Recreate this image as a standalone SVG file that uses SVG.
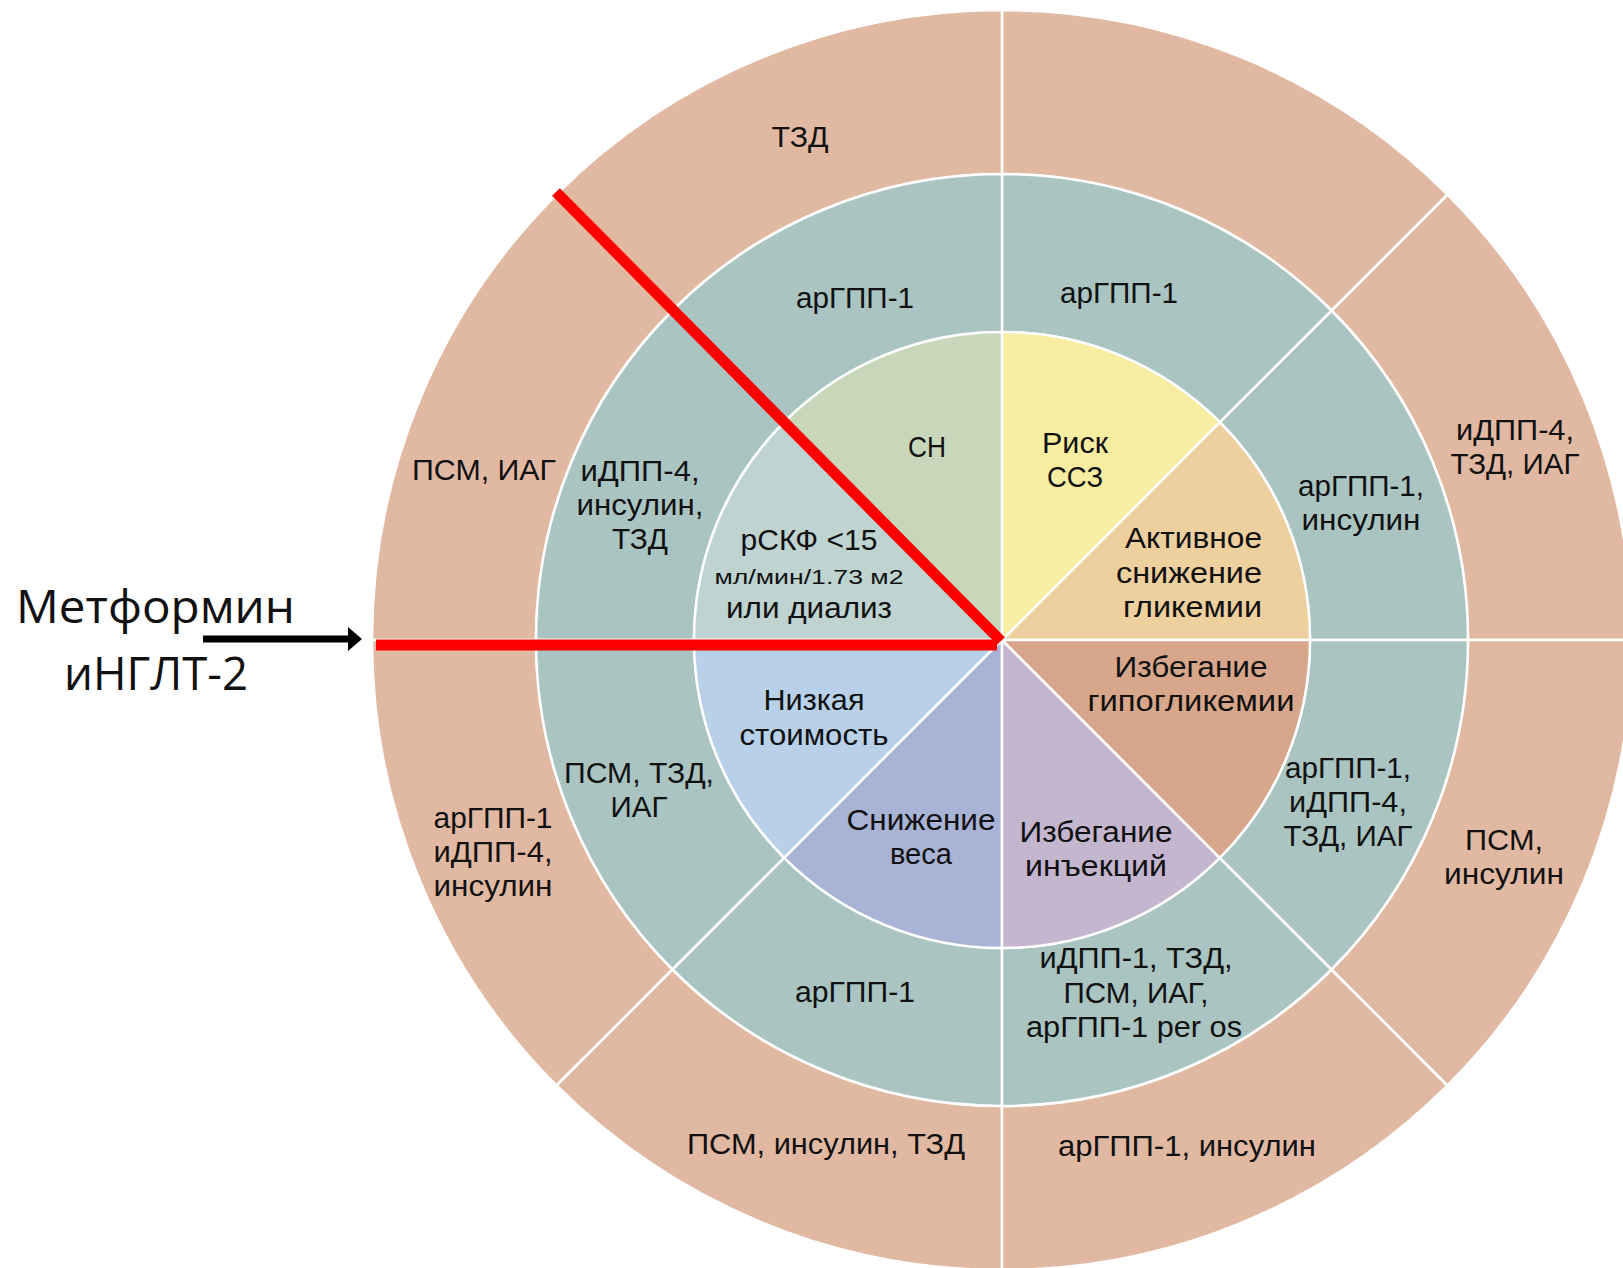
<svg xmlns="http://www.w3.org/2000/svg" width="1623" height="1268" viewBox="0 0 1623 1268">
<defs>
<style>
.sec{stroke:#ffffff;stroke-width:2.5;stroke-linejoin:round}
.outer{fill:#E1B9A3}
.mid{fill:#AAC4C1}
text{font-family:"Liberation Sans","Open Sans","DejaVu Sans",sans-serif;font-size:29px;fill:#111;text-anchor:middle}
.small{font-size:20px}
.big{font-family:"Open Sans","Noto Sans",sans-serif;font-size:45px;text-anchor:start}
.red{stroke:#FF0000;stroke-width:11;fill:none}
</style>
<marker id="ah" viewBox="0 0 14 24" refX="4" refY="12" markerWidth="14" markerHeight="24" markerUnits="userSpaceOnUse" orient="auto">
<path d="M0,0 L14,12 L0,24 Z" fill="#000"/>
</marker>
</defs>
<rect width="1623" height="1268" fill="#ffffff"/>

<!-- outer ring -->
<g id="outer-0-45"><path class="sec outer" d="M1632,640 A630,630 0 0 0 1447.5,194.5 L1331.5,310.5 A466,466 0 0 1 1468,640 Z"/>
<text x="1515" y="440" textLength="118" lengthAdjust="spacingAndGlyphs">иДПП-4,</text>
<text x="1515" y="474" textLength="129" lengthAdjust="spacingAndGlyphs">ТЗД, ИАГ</text></g>
<g id="outer-45-90"><path class="sec outer" d="M1447.5,194.5 A630,630 0 0 0 1002,10 L1002,174 A466,466 0 0 1 1331.5,310.5 Z"/></g>
<g id="outer-90-135"><path class="sec outer" d="M1002,10 A630,630 0 0 0 556.5,194.5 L672.5,310.5 A466,466 0 0 1 1002,174 Z"/>
<text x="800" y="147" textLength="57" lengthAdjust="spacingAndGlyphs">ТЗД</text></g>
<g id="outer-135-180"><path class="sec outer" d="M556.5,194.5 A630,630 0 0 0 372,640 L536,640 A466,466 0 0 1 672.5,310.5 Z"/>
<text x="484" y="480" textLength="144" lengthAdjust="spacingAndGlyphs">ПСМ, ИАГ</text></g>
<g id="outer-180-225"><path class="sec outer" d="M372,640 A630,630 0 0 0 556.5,1085.5 L672.5,969.5 A466,466 0 0 1 536,640 Z"/>
<text x="493" y="828" textLength="119" lengthAdjust="spacingAndGlyphs">арГПП-1</text>
<text x="493" y="862" textLength="119" lengthAdjust="spacingAndGlyphs">иДПП-4,</text>
<text x="493" y="896" textLength="119" lengthAdjust="spacingAndGlyphs">инсулин</text></g>
<g id="outer-225-270"><path class="sec outer" d="M556.5,1085.5 A630,630 0 0 0 1002,1270 L1002,1106 A466,466 0 0 1 672.5,969.5 Z"/>
<text x="826" y="1154" textLength="278" lengthAdjust="spacingAndGlyphs">ПСМ, инсулин, ТЗД</text></g>
<g id="outer-270-315"><path class="sec outer" d="M1002,1270 A630,630 0 0 0 1447.5,1085.5 L1331.5,969.5 A466,466 0 0 1 1002,1106 Z"/>
<text x="1187" y="1156" textLength="258" lengthAdjust="spacingAndGlyphs">арГПП-1, инсулин</text></g>
<g id="outer-315-360"><path class="sec outer" d="M1447.5,1085.5 A630,630 0 0 0 1632,640 L1468,640 A466,466 0 0 1 1331.5,969.5 Z"/>
<text x="1504" y="850" textLength="78" lengthAdjust="spacingAndGlyphs">ПСМ,</text>
<text x="1504" y="884" textLength="120" lengthAdjust="spacingAndGlyphs">инсулин</text></g>

<!-- middle ring -->
<g id="mid-0-45"><path class="sec mid" d="M1468,640 A466,466 0 0 0 1331.5,310.5 L1219.8,422.2 A308,308 0 0 1 1310,640 Z"/>
<text x="1361" y="496" textLength="126" lengthAdjust="spacingAndGlyphs">арГПП-1,</text>
<text x="1361" y="530" textLength="119" lengthAdjust="spacingAndGlyphs">инсулин</text></g>
<g id="mid-45-90"><path class="sec mid" d="M1331.5,310.5 A466,466 0 0 0 1002,174 L1002,332 A308,308 0 0 1 1219.8,422.2 Z"/>
<text x="1119" y="303" textLength="118" lengthAdjust="spacingAndGlyphs">арГПП-1</text></g>
<g id="mid-90-135"><path class="sec mid" d="M1002,174 A466,466 0 0 0 672.5,310.5 L784.2,422.2 A308,308 0 0 1 1002,332 Z"/>
<text x="855" y="308" textLength="118" lengthAdjust="spacingAndGlyphs">арГПП-1</text></g>
<g id="mid-135-180"><path class="sec mid" d="M672.5,310.5 A466,466 0 0 0 536,640 L694,640 A308,308 0 0 1 784.2,422.2 Z"/>
<text x="640" y="481" textLength="119" lengthAdjust="spacingAndGlyphs">иДПП-4,</text>
<text x="640" y="515" textLength="127" lengthAdjust="spacingAndGlyphs">инсулин,</text>
<text x="640" y="549" textLength="56" lengthAdjust="spacingAndGlyphs">ТЗД</text></g>
<g id="mid-180-225"><path class="sec mid" d="M536,640 A466,466 0 0 0 672.5,969.5 L784.2,857.8 A308,308 0 0 1 694,640 Z"/>
<text x="639" y="783" textLength="150" lengthAdjust="spacingAndGlyphs">ПСМ, ТЗД,</text>
<text x="639" y="817" textLength="57" lengthAdjust="spacingAndGlyphs">ИАГ</text></g>
<g id="mid-225-270"><path class="sec mid" d="M672.5,969.5 A466,466 0 0 0 1002,1106 L1002,948 A308,308 0 0 1 784.2,857.8 Z"/>
<text x="855" y="1002" textLength="120" lengthAdjust="spacingAndGlyphs">арГПП-1</text></g>
<g id="mid-270-315"><path class="sec mid" d="M1002,1106 A466,466 0 0 0 1331.5,969.5 L1219.8,857.8 A308,308 0 0 1 1002,948 Z"/>
<text x="1136" y="968" textLength="193" lengthAdjust="spacingAndGlyphs">иДПП-1, ТЗД,</text>
<text x="1136" y="1003" textLength="145" lengthAdjust="spacingAndGlyphs">ПСМ, ИАГ,</text>
<text x="1134" y="1037" textLength="216" lengthAdjust="spacingAndGlyphs">арГПП-1 per os</text></g>
<g id="mid-315-360"><path class="sec mid" d="M1331.5,969.5 A466,466 0 0 0 1468,640 L1310,640 A308,308 0 0 1 1219.8,857.8 Z"/>
<text x="1348" y="778" textLength="126" lengthAdjust="spacingAndGlyphs">арГПП-1,</text>
<text x="1348" y="812" textLength="118" lengthAdjust="spacingAndGlyphs">иДПП-4,</text>
<text x="1348" y="846" textLength="129" lengthAdjust="spacingAndGlyphs">ТЗД, ИАГ</text></g>

<!-- inner sectors -->
<g id="active-glycemia"><path class="sec" fill="#EECF9E" d="M1002,640 L1310,640 A308,308 0 0 0 1219.8,422.2 Z"/>
<text x="1262" y="548" style="text-anchor:end" textLength="137" lengthAdjust="spacingAndGlyphs">Активное</text>
<text x="1262" y="583" style="text-anchor:end" textLength="146" lengthAdjust="spacingAndGlyphs">снижение</text>
<text x="1262" y="617" style="text-anchor:end" textLength="139" lengthAdjust="spacingAndGlyphs">гликемии</text></g>
<g id="cv-risk"><path class="sec" fill="#F6EDA1" d="M1002,640 L1219.8,422.2 A308,308 0 0 0 1002,332 Z"/>
<text x="1075" y="453" textLength="66" lengthAdjust="spacingAndGlyphs">Риск</text>
<text x="1075" y="487" textLength="56" lengthAdjust="spacingAndGlyphs">ССЗ</text></g>
<g id="heart-failure"><path class="sec" fill="#C8D6B9" d="M1002,640 L1002,332 A308,308 0 0 0 784.2,422.2 Z"/>
<text x="927" y="457" textLength="38" lengthAdjust="spacingAndGlyphs">СН</text></g>
<g id="egfr"><path class="sec" fill="#BFD3D1" d="M1002,640 L784.2,422.2 A308,308 0 0 0 694,640 Z"/>
<text x="809" y="550" textLength="137" lengthAdjust="spacingAndGlyphs">рСКФ &lt;15</text>
<text x="809" y="584" class="small" textLength="189" lengthAdjust="spacingAndGlyphs">мл/мин/1.73 м2</text>
<text x="809" y="618" textLength="166" lengthAdjust="spacingAndGlyphs">или диализ</text></g>
<g id="low-cost"><path class="sec" fill="#B8D1E9" d="M1002,640 L694,640 A308,308 0 0 0 784.2,857.8 Z"/>
<text x="814" y="710" textLength="101" lengthAdjust="spacingAndGlyphs">Низкая</text>
<text x="814" y="745" textLength="149" lengthAdjust="spacingAndGlyphs">стоимость</text></g>
<g id="weight-loss"><path class="sec" fill="#A8B3D6" d="M1002,640 L784.2,857.8 A308,308 0 0 0 1002,948 Z"/>
<text x="921" y="830" textLength="149" lengthAdjust="spacingAndGlyphs">Снижение</text>
<text x="921" y="864" textLength="62" lengthAdjust="spacingAndGlyphs">веса</text></g>
<g id="avoid-injections"><path class="sec" fill="#C4B6CF" d="M1002,640 L1002,948 A308,308 0 0 0 1219.8,857.8 Z"/>
<text x="1096" y="842" textLength="153" lengthAdjust="spacingAndGlyphs">Избегание</text>
<text x="1096" y="876" textLength="142" lengthAdjust="spacingAndGlyphs">инъекций</text></g>
<g id="avoid-hypoglycemia"><path class="sec" fill="#D8A68A" d="M1002,640 L1219.8,857.8 A308,308 0 0 0 1310,640 Z"/>
<text x="1191" y="677" textLength="153" lengthAdjust="spacingAndGlyphs">Избегание</text>
<text x="1191" y="711" textLength="207" lengthAdjust="spacingAndGlyphs">гипогликемии</text></g>

<!-- red highlight lines -->
<g id="highlight">
<line class="red" x1="376" y1="645" x2="997" y2="645"/>
<line class="red" x1="556" y1="192" x2="1001" y2="641"/>
</g>

<!-- left label -->
<g id="start-therapy">
<text class="big" x="16" y="623" textLength="279" lengthAdjust="spacingAndGlyphs">Метформин</text>
<text class="big" x="64" y="690" textLength="184" lengthAdjust="spacingAndGlyphs">иНГЛТ-2</text>
</g>

<g id="connectors">
<line x1="203" y1="639" x2="352" y2="639" stroke="#000" stroke-width="7" marker-end="url(#ah)"/>
</g>
</svg>
